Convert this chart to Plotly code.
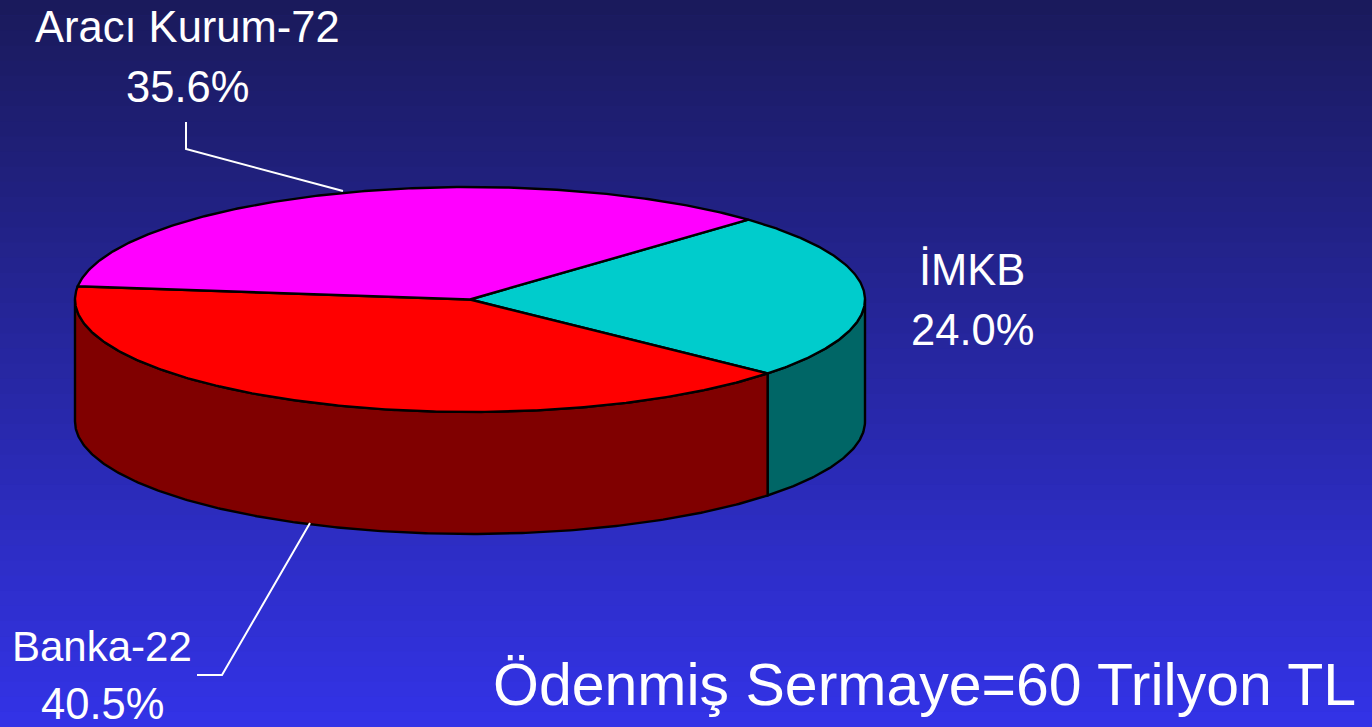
import numpy as np
import plotly.graph_objects as go

# Data
categories = ["İMKB", "Banka-22", "Aracı Kurum-72"]
shares = [24.0, 40.5, 35.6]
share_labels = ["24.0%", "40.5%", "35.6%"]
top_colors = ["#00CCCC", "#FF0000", "#FF00FF"]
side_colors = ["#006666", "#800000", "#800080"]
footer = "Ödenmiş Sermaye=60 Trilyon TL"

W, H = 1372, 727
CX, CY, RX, RY, DEPTH = 470, 299.5, 395, 112.5, 122
START = 45.2

fig = go.Figure()


def rim(a0, a1, dy=0.0):
    t = np.radians(np.linspace(a0, a1, max(int(abs(a1 - a0) * 2), 2)))
    return CX + RX * np.cos(t), CY - RY * np.sin(t) + dy


def poly(x, y, color):
    fig.add_trace(go.Scatter(
        x=list(x), y=list(y), mode="lines", fill="toself", fillcolor=color,
        line=dict(color="black", width=2.4), hoverinfo="skip", showlegend=False,
    ))


# Turn the shares into clockwise angle spans
total = sum(shares)
spans = []
a = START
for s in shares:
    b = a - s / total * 360
    spans.append((a, b))
    a = b

# Side walls: only the part of each slice on the front half is visible
for (a0, a1), col in zip(spans, side_colors):
    lo, hi = max(a1, -180), min(a0, 0)
    if hi > lo:
        x1, y1 = rim(hi, lo)
        x2, y2 = rim(lo, hi, DEPTH)
        poly(np.r_[x1, x2, x1[0]], np.r_[y1, y2, y1[0]], col)

# Top faces
for (a0, a1), col in zip(spans, top_colors):
    x, y = rim(a0, a1)
    poly(np.r_[CX, x, CX], np.r_[CY, y, CY], col)

# Leader lines
for lx, ly in [([186, 186, 343], [122, 149, 191]), ([310, 222, 197], [523, 675, 675])]:
    fig.add_trace(go.Scatter(x=lx, y=ly, mode="lines", line=dict(color="white", width=2),
                             hoverinfo="skip", showlegend=False))

# Gradient background
top = np.array([0x1A, 0x1A, 0x5C])
bot = np.array([0x33, 0x33, 0xE6])
N = 48
shapes = []
for i in range(N):
    c = top + (bot - top) * i / (N - 1)
    shapes.append(dict(type="rect", xref="paper", yref="paper", x0=0, x1=1,
                       y0=1 - i / N, y1=1 - (i + 1) / N - 0.001, layer="below",
                       fillcolor=f"rgb({c[0]:.0f},{c[1]:.0f},{c[2]:.0f})", line_width=0))

FONT = "Liberation Sans"
anns = []
for (x, y), txt, s in zip([(972, 270), (102, 646), (187, 27)], categories, [43.5, 42, 43.5]):
    anns.append((x, y, txt, s))
for (x, y), txt in zip([(972, 330), (102, 704), (187, 87)], share_labels):
    anns.append((x, y, txt, 43.5))
anns.append((924, 685, footer, 59))

fig.update_layout(
    width=W, height=H, margin=dict(l=0, r=0, t=0, b=0), autosize=False,
    paper_bgcolor="#2626A0", plot_bgcolor="rgba(0,0,0,0)", shapes=shapes,
    xaxis=dict(range=[0, W], visible=False, fixedrange=True),
    yaxis=dict(range=[H, 0], visible=False, fixedrange=True),
    annotations=[dict(x=x, y=y, text=t, showarrow=False, xanchor="center", yanchor="middle",
                      font=dict(family=FONT, size=s, color="white")) for x, y, t, s in anns],
)
fig.write_html(
    "out.html",
    config=dict(displayModeBar=False),
    post_script="document.body.style.margin='0';document.body.style.overflow='hidden';"
                "document.documentElement.style.overflow='hidden';",
)
